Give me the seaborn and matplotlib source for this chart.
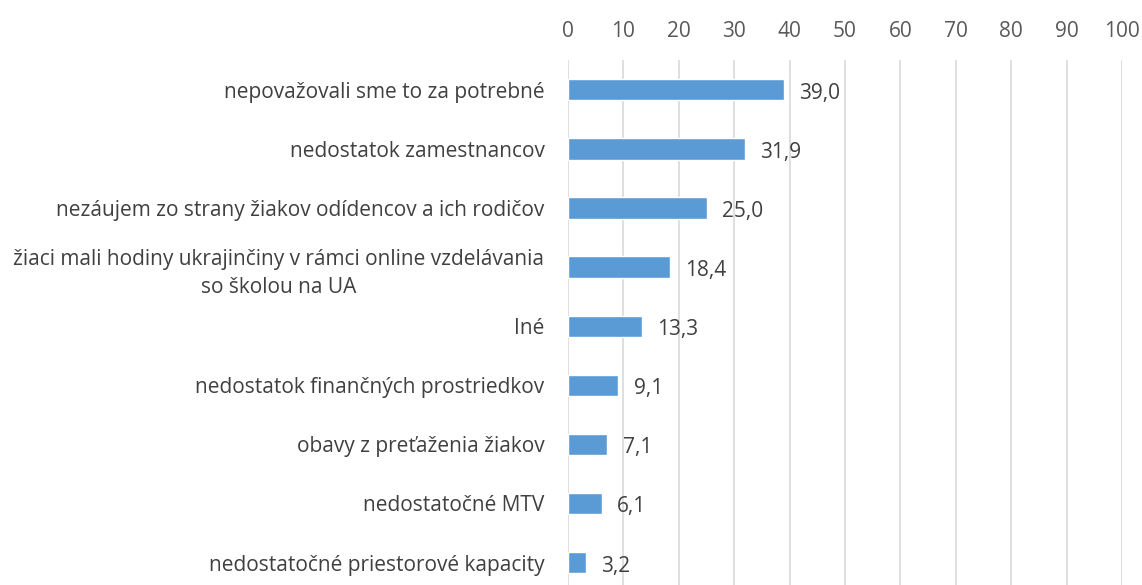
import matplotlib
matplotlib.use("Agg")
import matplotlib.pyplot as plt
import seaborn as sns
import pandas as pd

categories = [
    "nepovažovali sme to za potrebné",
    "nedostatok zamestnancov",
    "nezáujem zo strany žiakov odídencov a ich rodičov",
    "žiaci mali hodiny ukrajinčiny v rámci online vzdelávania\nso školou na UA",
    "Iné",
    "nedostatok finančných prostriedkov",
    "obavy z preťaženia žiakov",
    "nedostatočné MTV",
    "nedostatočné priestorové kapacity",
]
values = [39.0, 31.9, 25.0, 18.4, 13.3, 9.1, 7.1, 6.1, 3.2]
xticks = [0, 10, 20, 30, 40, 50, 60, 70, 80, 90, 100]

sns.set_style("white")
plt.rcParams['font.family'] = ['Open Sans', 'DejaVu Sans']

df = pd.DataFrame({"cat": categories, "val": values})

fig = plt.figure(figsize=(11.42, 5.85), dpi=100)
ax = fig.add_axes([0.4974, 0.0, 0.4851, 0.897])

sns.barplot(data=df, y="cat", x="val", orient="h", color="#5B9BD5",
            width=0.36, saturation=1, ax=ax, zorder=3)

ax.set_xlim(0, 100)
ax.set_ylim(8.38, -0.5)
ax.set_xticks(xticks)
ax.xaxis.tick_top()
ax.tick_params(axis='x', length=0, pad=13, labelsize=15, labelcolor="#595959")
ax.tick_params(axis='y', length=0, pad=17, labelsize=15, labelcolor="#404040")
for lab in ax.get_yticklabels():
    lab.set_multialignment('center')
    lab.set_linespacing(1.45)
ax.grid(axis='x', color="#D9D9D9", linewidth=1.2, zorder=0)
ax.grid(axis='y', visible=False)
for s in ax.spines.values():
    s.set_visible(False)
ax.set_xlabel("")
ax.set_ylabel("")

for i, v in enumerate(values):
    ax.annotate(f"{v:.1f}".replace(".", ","), xy=(v, i), xytext=(11, -2.5),
                textcoords="offset points", va="center", ha="left",
                fontsize=15, color="#404040")

fig.savefig("out.png", dpi=100)
